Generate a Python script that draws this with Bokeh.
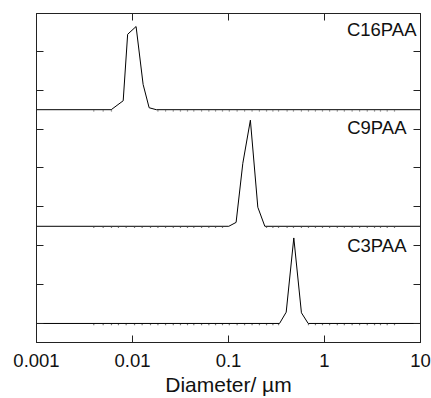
from bokeh.plotting import figure
from bokeh.models import Range1d, LinearAxis, LogAxis, LogScale, FixedTicker, Label
from bokeh.embed import file_html
from bokeh.resources import INLINE

# ---- data ----
c16_d = [0.001, 0.0060, 0.0080, 0.0089, 0.0109, 0.0129, 0.0149, 0.0177, 10]
c16_v = [0, 0, 0.23, 1.94, 2.14, 0.65, 0.05, 0, 0]
c9_d = [0.001, 0.1007, 0.120, 0.141, 0.169, 0.202, 0.239, 10]
c9_v = [0, 0, 0.10, 1.62, 2.73, 0.49, 0, 0]
c3_d = [0.001, 0.340, 0.399, 0.479, 0.575, 0.676, 10]
c3_v = [0, 0, 0.29, 2.20, 0.275, 0, 0]
# measurement bins visible as small dots along the flat baselines
bin_d = [0.00395, 0.00495, 0.00604, 0.00714, 0.00859, 0.0105, 0.0126, 0.0154,
         0.0184, 0.0221, 0.0266, 0.0316, 0.0374, 0.0435, 0.0524, 0.0624,
         0.0733, 0.0866, 0.102, 0.123, 0.147, 0.176, 0.210, 0.249, 0.290,
         0.332, 0.408, 0.475, 0.575, 0.681, 0.805, 0.953, 1.13, 1.36, 1.61,
         1.94, 2.32, 2.79, 3.32, 3.83, 4.50, 5.36]
names = ["C16PAA", "C9PAA", "C3PAA"]
offsets = [5.5, 2.5, 0.0]
x_ticks = [0.001, 0.01, 0.1, 1, 10]
x_tick_labels = ["0.001", "0.01", "0.1", "1", "10"]
y_ticks = [0, 1, 2, 3, 4, 5, 6, 7, 8]

FONT = "Liberation Sans"
AX = "#222222"

p = figure(width=431, height=398, x_axis_type=None, y_axis_location=None,
           x_range=Range1d(0.001, 10), y_range=Range1d(-0.49, 7.975),
           output_backend="svg", toolbar_location=None,
           min_border_left=36, min_border_right=11, min_border_top=13,
           min_border_bottom=55)
p.x_scale = LogScale()
p.grid.visible = False
p.outline_line_color = AX
p.outline_line_width = 1
p.background_fill_color = "white"
p.border_fill_color = "white"

def style(ax, labels=False):
    ax.axis_line_color = AX
    ax.major_tick_line_color = AX
    ax.minor_tick_line_color = None
    ax.major_tick_in = 7
    ax.major_tick_out = 0
    if not labels:
        ax.major_label_text_font_size = "0px"
        ax.major_label_text_alpha = 0
        ax.major_label_standoff = 0

# bottom axis
xb = LogAxis(ticker=FixedTicker(ticks=x_ticks, minor_ticks=[]))
style(xb, labels=True)
xb.major_label_overrides = {t: s for t, s in zip(x_ticks, x_tick_labels)}
xb.major_label_text_font = FONT
xb.major_label_text_font_size = "18.5px"
xb.major_label_text_color = "#111111"
xb.major_label_standoff = 11
xb.axis_label = "Diameter/ \u00b5m"
xb.axis_label_text_font = FONT
xb.axis_label_text_font_size = "21px"
xb.axis_label_text_font_style = "normal"
xb.axis_label_text_color = "#111111"
xb.axis_label_standoff = 3
p.add_layout(xb, "below")

# top axis
xt = LogAxis(ticker=FixedTicker(ticks=x_ticks, minor_ticks=[]))
style(xt)
p.add_layout(xt, "above")

# left / right axes
for side in ("left", "right"):
    ya = LinearAxis(ticker=FixedTicker(ticks=y_ticks, minor_ticks=[]))
    style(ya)
    p.add_layout(ya, side)

# series
for d, v, off in zip([c16_d, c9_d, c3_d], [c16_v, c9_v, c3_v], offsets):
    p.line(d, [off + val for val in v], line_color="black", line_width=1)
    nz = [dd for dd, vv in zip(d, v) if vv > 0]
    lo, hi = min(nz), max(nz)
    dots = [b for b in bin_d if b < lo * 0.85 or b > hi * 1.18]
    p.scatter(dots, [off - 0.028] * len(dots), marker="square", size=1.2,
              fill_color="#555555", fill_alpha=0.8, line_color=None)

label_pos = [(7.56, -4), (5.03, -14), (2.0, -14)]
for name, (yy, xo) in zip(names, label_pos):
    p.add_layout(Label(x=10, y=yy, x_offset=xo, text=name, text_align="right",
                       text_baseline="middle", text_font=FONT,
                       text_font_size="18.5px", text_color="#111111"))

open("out.html", "w").write(file_html(p, INLINE))
